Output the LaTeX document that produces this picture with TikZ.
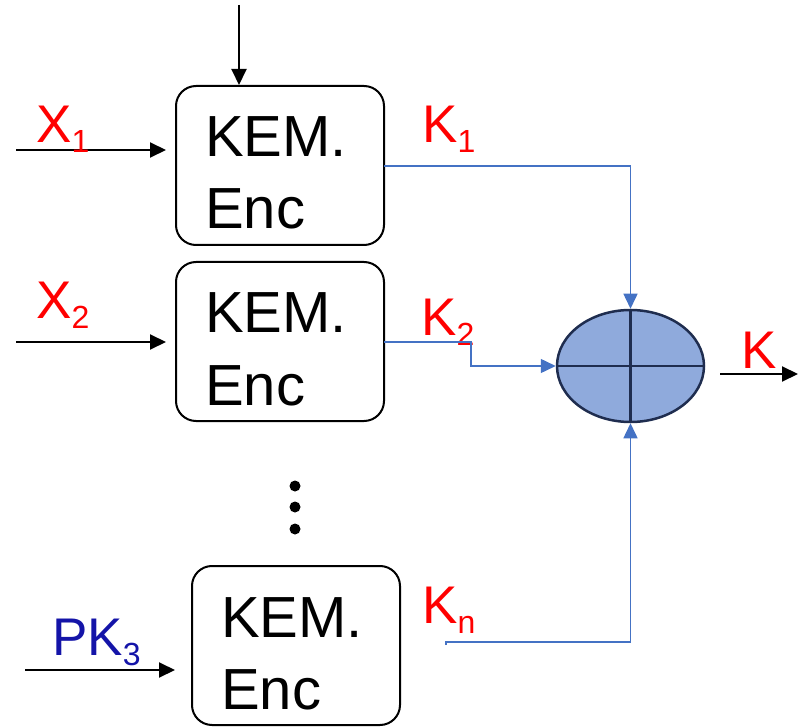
\documentclass[tikz,border=0pt]{standalone}
\usepackage{fontspec}
\setmainfont{Liberation Sans}
\usetikzlibrary{arrows.meta,shapes.geometric}
\definecolor{kred}{HTML}{FF0000}
\definecolor{kblue}{HTML}{4472C4}
\definecolor{pkblue}{HTML}{1414A8}
\definecolor{efill}{HTML}{8FAADC}
\definecolor{edraw}{HTML}{1F2D4F}
\newcommand{\mylab}[2]{#1\raisebox{-10pt}{\fontsize{32}{32}\selectfont #2}}
\begin{document}
\begin{tikzpicture}[x=1pt,y=-1pt,
  encbox/.style={draw=black,line width=2pt,rounded corners=20pt},
  boxtxt/.style={anchor=base west,inner sep=0pt,font=\fontsize{58}{58}\selectfont},
  lab/.style={anchor=base west,inner sep=0pt,text=kred,font=\fontsize{53}{53}\selectfont},
  inarrow/.style={line width=2pt,-{Triangle[length=16pt,width=15pt]}},
  bluearrow/.style={draw=kblue,line width=1.5pt,-{Triangle[length=15pt,width=14pt]}},
  blueline/.style={draw=kblue,line width=1.5pt},
  dotstyle/.style={circle,fill=black,inner sep=0pt,minimum size=11pt}]
\useasboundingbox (0,0) rectangle (798,727);

% boxes
\node[encbox,minimum width=208pt,minimum height=159pt,inner sep=0pt] (b1) at (280,165.5) {};
\node[encbox,minimum width=208pt,minimum height=159pt,inner sep=0pt] (b2) at (280,341.5) {};
\node[encbox,minimum width=208pt,minimum height=159pt,inner sep=0pt] (b3) at (296,645.5) {};

\node[boxtxt] (t1a) at (205,157) {KEM.};
\node[boxtxt] (t1b) at (205,229) {Enc};
\node[boxtxt] (t2a) at (205,333) {KEM.};
\node[boxtxt] (t2b) at (205,405) {Enc};
\node[boxtxt] (t3a) at (221,637) {KEM.};
\node[boxtxt] (t3b) at (221,709) {Enc};

% combiner
\node[ellipse,draw=edraw,fill=efill,line width=2.5pt,minimum width=147pt,minimum height=112pt,inner sep=0pt] (c) at (630.5,366) {};
\draw[edraw,line width=2.5pt] (c.north) -- (c.south);
\draw[edraw,line width=2.5pt] (c.west) -- (c.east);

% input arrows
\coordinate (top) at (239,5);
\coordinate (x1s) at (16,150);
\coordinate (x1e) at (166,150);
\coordinate (x2s) at (16,342);
\coordinate (x2e) at (166,342);
\coordinate (pks) at (25,670);
\coordinate (pke) at (175,670);
\draw[inarrow] (top) -- (top |- b1.north);
\draw[inarrow] (x1s) -- (x1e);
\draw[inarrow] (x2s) -- (x2e);
\draw[inarrow] (pks) -- (pke);

% labels
\node[lab] (lx1) at (36,143) {\mylab{X}{1}};
\node[lab] (lx2) at (36,319) {\mylab{X}{2}};
\node[lab,text=pkblue] (lpk) at (52,655) {\mylab{PK}{3}};
\node[lab] (lk1) at (422,143) {\mylab{K}{1}};
\node[lab] (lk2) at (421,335) {\mylab{K}{2}};
\node[lab] (lkn) at (422,623) {\mylab{K}{n}};
\node[lab] (lk) at (741,369) {K};

% key connectors
\coordinate (k1s) at (384,166);
\draw[bluearrow] (k1s) -| (c.north);
\coordinate (k2s) at (384,342);
\coordinate (k2m) at (471,342);
\draw[bluearrow] (k2s) -- (k2m) |- (c.west);
\coordinate (kns) at (446,645);
\coordinate (knm) at (446,642);
\draw[bluearrow] (kns) -- (knm) -| (c.south);

% output
\coordinate (os) at (720,374);
\coordinate (oe) at (798,374);
\draw[inarrow] (os) -- (oe);

% dots
\node[dotstyle] (d1) at (295,486) {};
\node[dotstyle] (d2) at (295,507) {};
\node[dotstyle] (d3) at (295,529) {};
\end{tikzpicture}
\end{document}
